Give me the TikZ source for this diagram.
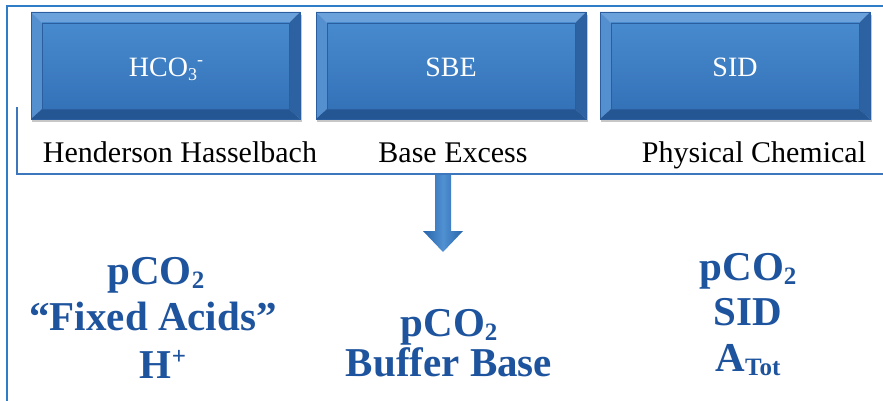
\documentclass[tikz,border=0pt]{standalone}
\usepackage{fontspec}
\setmainfont{Liberation Serif}
\definecolor{framecol}{RGB}{46,125,198}
\definecolor{brackcol}{RGB}{60,118,188}
\definecolor{facetop}{RGB}{72,138,206}
\definecolor{facebot}{RGB}{52,114,184}
\definecolor{bevT}{RGB}{108,162,220}
\definecolor{bevL}{RGB}{84,144,208}
\definecolor{bevR}{RGB}{44,98,162}
\definecolor{bevB}{RGB}{36,86,148}
\definecolor{edgecol}{RGB}{42,94,158}
\definecolor{arrdark}{RGB}{40,100,170}
\definecolor{arrlight}{RGB}{80,145,210}
\definecolor{bluetext}{RGB}{30,84,158}
\tikzset{
  framestyle/.style={draw=framecol,line width=2.6pt},
  brackstyle/.style={draw=brackcol,line width=2pt},
  boxtext/.style={text=white,font=\fontsize{28}{30}\selectfont,inner sep=0pt},
  lbl/.style={text=black,font=\fontsize{30}{32}\selectfont,inner sep=0pt},
  bigtxt/.style={text=bluetext,font=\fontsize{41}{43}\selectfont\bfseries,inner sep=0pt},
}
% small lowered / raised text for the big blue lines
\newcommand\bsub[1]{\raisebox{-4pt}{\fontsize{25}{27}\selectfont #1}}
\newcommand\bsup[1]{\raisebox{14pt}{\fontsize{25}{27}\selectfont #1}}
\newcommand\ssub[1]{\raisebox{-4pt}{\fontsize{18}{20}\selectfont #1}}
\newcommand\ssup[1]{\raisebox{11pt}{\fontsize{18}{20}\selectfont #1}}
\newcommand\bevbox[7]{% #1 name, #2 x1, #3 y1, #4 x2, #5 y2, #6 text, #7 text center x
  \fill[black,opacity=0.22] (#2+1,#3+3) rectangle (#4+2,#5+3);
  \fill[bevT] (#2,#3) -- (#4,#3) -- (#4-11,#3+11) -- (#2+11,#3+11) -- cycle;
  \fill[bevL] (#2,#3) -- (#2+11,#3+11) -- (#2+11,#5-10) -- (#2,#5) -- cycle;
  \fill[bevR] (#4,#3) -- (#4-11,#3+11) -- (#4-11,#5-10) -- (#4,#5) -- cycle;
  \fill[bevB] (#2,#5) -- (#2+11,#5-10) -- (#4-11,#5-10) -- (#4,#5) -- cycle;
  \shade[top color=facetop,bottom color=facebot] (#2+11,#3+11) rectangle (#4-11,#5-10);
  \draw[edgecol,line width=0.6pt] (#2+11,#3+11) rectangle (#4-11,#5-10);
  \draw[edgecol,line width=0.6pt] (#2,#3) rectangle (#4,#5);
  \node[boxtext,anchor=base] (#1) at (#7,77) {#6};
}
\begin{document}
\begin{tikzpicture}[x=1pt,y=-1pt]
\useasboundingbox (0,0) rectangle (883,401);
\fill[white] (0,0) rectangle (883,401);
% outer frame
\draw[framestyle] (7,402) -- (7,6) -- (884,6);
% boxes
\bevbox{hco}{31}{12}{300}{119}{HCO\ssub{3}\ssup{-}}{166}
\bevbox{sbe}{316}{12}{586}{119}{SBE}{451}
\bevbox{sid}{600}{12}{870}{119}{SID}{735}
% labels
\node[lbl,anchor=base] (hh) at (180,162) {Henderson Hasselbach};
\node[lbl,anchor=base] (be) at (453,162) {Base Excess};
\node[lbl,anchor=base] (pc) at (754,162) {Physical Chemical};
% bracket
\coordinate (bt) at (17,107);
\coordinate (bc) at (17,174);
\coordinate (br) at (884,174);
\draw[brackstyle] (bt) -- (bc) -- (br);
% arrow
\shade[left color=arrdark,right color=arrdark,middle color=arrlight]
  (435,175) -- (451,175) -- (451,231) -- (463,231) -- (443,252) -- (423,231) -- (435,231) -- cycle;
% bottom texts
\node[bigtxt,anchor=base] (l1) at (156,284) {pCO\bsub{2}};
\node[bigtxt,anchor=base] (l2) at (153,330) {“Fixed Acids”};
\node[bigtxt,anchor=base] (l3) at (163,378) {H\bsup{+}};
\node[bigtxt,anchor=base] (m1) at (449,336) {pCO\bsub{2}};
\node[bigtxt,anchor=base] (m2) at (449,376) {Buffer Base};
\node[bigtxt,anchor=base] (r1) at (748,280) {pCO\bsub{2}};
\node[bigtxt,anchor=base] (r2) at (748,325) {SID};
\node[bigtxt,anchor=base] (r3) at (748,371) {A\bsub{Tot}};
\end{tikzpicture}
\end{document}
